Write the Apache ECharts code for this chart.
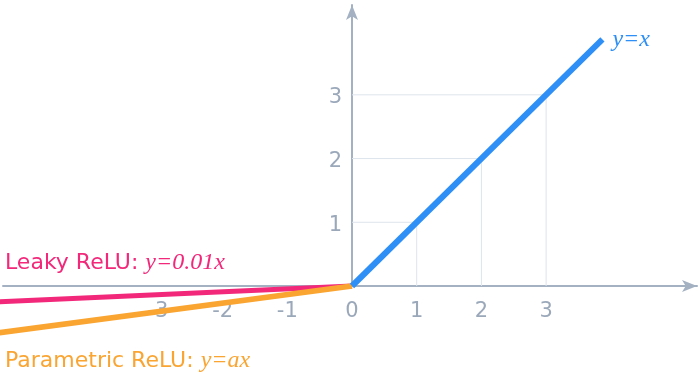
<!DOCTYPE html>
<html>
<head>
<meta charset="utf-8">
<script src="https://cdn.jsdelivr.net/npm/echarts@6/dist/echarts.min.js"></script>
<style>
html,body{margin:0;padding:0;background:#fff;}
#chart{width:700px;height:374px;}
</style>
</head>
<body>
<div id="chart"></div>
<script>
// Data
const xTicks = [-3, -2, -1, 0, 1, 2, 3];
const yTicks = [1, 2, 3];
const reluX = [0, 3.87];
const reluY = [0, 3.87];
const leakyX = [-5.5, 0];
const leakyY = [-0.25, 0];
const paramX = [-5.5, 0];
const paramY = [-0.74, 0];

const axisColor = '#A3B1C3';
const labelColor = '#9AA8BA';
const gridColor = '#DDE4EC';
const blue = '#2E8FF6';
const pink = '#F2287A';
const orange = '#FAA532';
const sans = 'DejaVu Sans';
const serif = 'Liberation Serif';

function pts(xs, ys) { return xs.map((x, i) => [x, ys[i]]); }

const gridSeries = [];
yTicks.forEach(k => {
  gridSeries.push({type:'line', data:[[k,0],[k,k]], showSymbol:false, silent:true, z:1,
    lineStyle:{color:gridColor, width:1}});
  gridSeries.push({type:'line', data:[[0,k],[k,k]], showSymbol:false, silent:true, z:1,
    lineStyle:{color:gridColor, width:1}});
});

const chart = echarts.init(document.getElementById('chart'), null, {renderer:'canvas'});
chart.setOption({
  animation:false,
  grid:{left:3, right:3, top:5, bottom:88, containLabel:false, outerBoundsMode:'none'},
  xAxis:{
    type:'value', min:-5.394, max:5.332,
    axisLine:{show:true, onZero:false, symbol:['none','arrow'], symbolSize:[9,15],
      lineStyle:{color:axisColor, width:2}},
    axisTick:{show:false},
    splitLine:{show:false},
    axisLabel:{show:true, customValues:xTicks, color:labelColor, fontFamily:sans, fontSize:21, margin:15,
      formatter: v => String(v)}
  },
  yAxis:{
    type:'value', min:0, max:4.41, offset:-349,
    axisLine:{show:true, onZero:false, symbol:['none','arrow'], symbolSize:[9,15],
      lineStyle:{color:axisColor, width:2}},
    axisTick:{show:false},
    splitLine:{show:false},
    axisLabel:{show:true, customValues:yTicks, color:labelColor, fontFamily:sans, fontSize:21, margin:10,
      formatter: v => '{d|' + v + '}',
      rich:{d:{color:labelColor, fontFamily:sans, fontSize:21, padding:[6,0,0,0]}}}
  },
  series: gridSeries.concat([
    {type:'line', data:pts(leakyX, leakyY), showSymbol:false, clip:false, z:3,
      lineStyle:{color:pink, width:5}},
    {type:'line', data:pts(paramX, paramY), showSymbol:false, clip:false, z:4,
      lineStyle:{color:orange, width:5.5}},
    {type:'line', data:pts(reluX, reluY), showSymbol:false, clip:false, z:5,
      lineStyle:{color:blue, width:6},
      endLabel:{show:true, formatter:'y=x', distance:10, color:blue,
        fontFamily:serif, fontStyle:'italic', fontSize:24}}
  ]),
  graphic:[
    {type:'text', left:5, top:251, style:{
      text:'{a|Leaky ReLU: }{b|y=0.01x}',
      rich:{a:{fill:pink, fontFamily:sans, fontSize:22},
            b:{fill:pink, fontFamily:serif, fontStyle:'italic', fontSize:24}}}},
    {type:'text', left:5, top:349, style:{
      text:'{a|Parametric ReLU: }{b|y=ax}',
      rich:{a:{fill:orange, fontFamily:sans, fontSize:22},
            b:{fill:orange, fontFamily:serif, fontStyle:'italic', fontSize:24}}}}
  ]
});
</script>
</body>
</html>
